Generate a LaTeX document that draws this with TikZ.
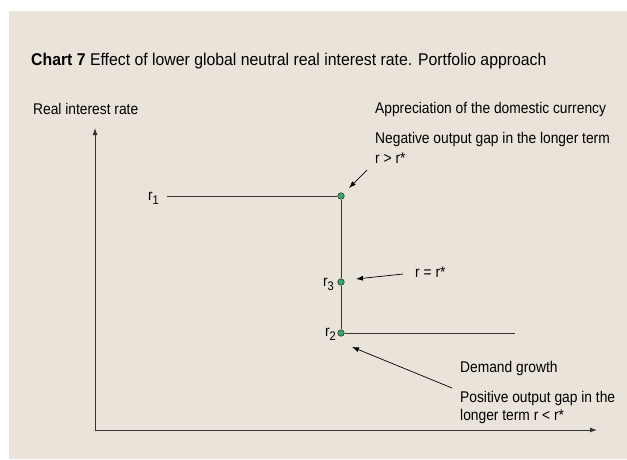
\documentclass[tikz,border=0pt]{standalone}
\usepackage{fontspec}
\setmainfont{Liberation Sans}[FakeStretch=0.89]
\newfontfamily\titlefont{Liberation Sans}[FakeStretch=0.93]
\usetikzlibrary{arrows.meta}
\definecolor{bgbeige}{RGB}{233,227,218}
\definecolor{linegray}{RGB}{51,51,51}
\definecolor{dotgreen}{RGB}{52,170,110}
\begin{document}
\begin{tikzpicture}[x=1pt,y=-1pt,
  txt/.style={anchor=base west,inner sep=0pt,font=\fontsize{15.5}{18}\selectfont,text=black},
  lbl/.style={anchor=base east,inner sep=0pt,font=\fontsize{15.5}{18}\selectfont,text=black},
  axis/.style={draw=linegray,line width=0.9pt,-{Latex[length=7pt,width=5pt]}},
  curve/.style={draw=linegray,line width=1pt},
  pointer/.style={draw=black,line width=0.7pt,-{Latex[length=7pt,width=5pt]}},
  dot/.style={circle,fill=dotgreen,draw=linegray,line width=0.6pt,minimum size=6.5pt,inner sep=0pt}]
\useasboundingbox (0,0) rectangle (627,459);
\fill[bgbeige] (9,11) rectangle (627,459);
% title
\node[txt,font=\titlefont\fontsize{17}{20}\selectfont] (title) at (31,65) {\textbf{Chart 7} Effect of lower global neutral real interest rate. Portfolio approach};
% axes
\coordinate (o) at (95,430);
\coordinate (ytip) at (95,128);
\coordinate (xtip) at (597,430);
\draw[axis] (o) -- (ytip);
\draw[axis] (o) -- (xtip);
\node[txt] (ylab) at (33,114) {Real interest rate};
% curve
\node[dot] (d1) at (341,196) {};
\node[dot] (d3) at (341,282) {};
\node[dot] (d2) at (341,333) {};
\coordinate (l1) at (167,196);
\coordinate (l2) at (515,333);
\draw[curve] (l1) -- (d1);
\draw[curve] (d1) -- (d3) -- (d2);
\draw[curve] (d2) -- (l2);
\node[lbl] (r1) at (159,200) {r\raisebox{-4pt}{\fontsize{12.5}{12}\selectfont 1}};
\node[lbl] (r3) at (334,286) {r\raisebox{-4pt}{\fontsize{12.5}{12}\selectfont 3}};
\node[lbl] (r2) at (336,336) {r\raisebox{-4pt}{\fontsize{12.5}{12}\selectfont 2}};
% texts
\node[txt] (appr) at (375,113) {Appreciation of the domestic currency};
\node[txt] (neg1) at (375,143) {Negative output gap in the longer term};
\node[txt] (neg2) at (375,163) {r > r*};
\node[txt] (eq) at (415,277) {r = r*};
\node[txt] (dem) at (460,372) {Demand growth};
\node[txt] (pos1) at (460,402) {Positive output gap in the};
\node[txt] (pos2) at (460,420) {longer term r < r*};
% pointers
\coordinate (t1) at (367,170);
\coordinate (h1) at (349,188);
\coordinate (t3) at (403,274);
\coordinate (h3) at (356,279);
\coordinate (t2) at (452,388);
\coordinate (h2) at (352,347);
\draw[pointer] (t1) -- (h1);
\draw[pointer] (t3) -- (h3);
\draw[pointer] (t2) -- (h2);
\end{tikzpicture}
\end{document}
